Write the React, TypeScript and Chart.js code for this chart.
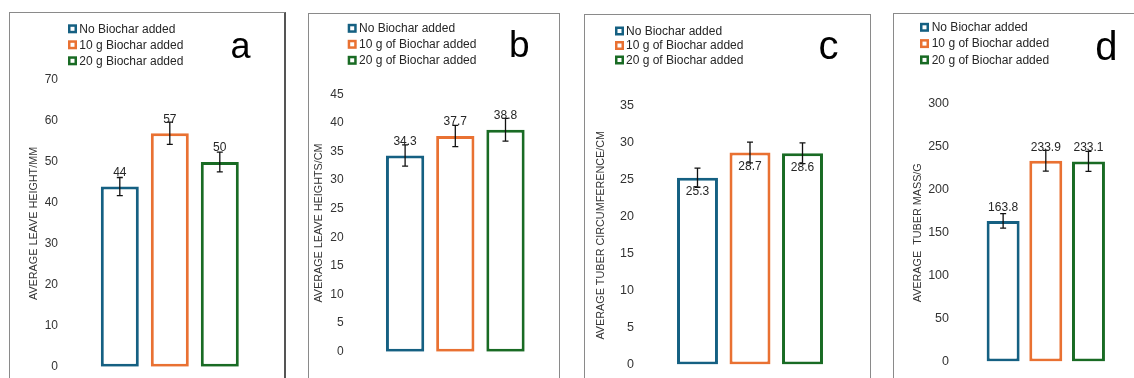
import React, { useEffect, useRef } from 'react';
import { Chart, registerables } from 'chart.js';

Chart.register(...registerables);

// ---------- DATA ----------
const SERIES_A = ['No Biochar added', '10 g Biochar added', '20 g Biochar added'];
const SERIES_BCD = ['No Biochar added', '10 g of Biochar added', '20 g of Biochar added'];

const LEAVE_HEIGHT_MM = [44, 57, 50];
const LEAVE_HEIGHT_MM_ERR = [2.2, 2.7, 2.4];
const LEAVE_HEIGHTS_CM = [34.3, 37.7, 38.8];
const LEAVE_HEIGHTS_CM_ERR = [1.85, 1.85, 2.0];
const TUBER_CIRC_CM = [25.3, 28.7, 28.6];
const TUBER_CIRC_CM_ERR = [1.3, 1.4, 1.4];
const TUBER_MASS_G = [163.8, 233.9, 233.1];
const TUBER_MASS_G_ERR = [8.5, 12, 11.7];

const TICKS_A = [0, 10, 20, 30, 40, 50, 60, 70];
const TICKS_B = [0, 5, 10, 15, 20, 25, 30, 35, 40, 45];
const TICKS_C = [0, 5, 10, 15, 20, 25, 30, 35];
const TICKS_D = [0, 50, 100, 150, 200, 250, 300];

const COLORS = ['#156082', '#E97132', '#196B24'];
const FONT = "'Liberation Sans', Arial, sans-serif";

type PanelCfg = {
  frame: { left: number; top: number; width: number; rightColor?: string; rightWidth?: number };
  canvas: { left: number; top: number; w: number; h: number };
  pad: { top: number; bottom: number; right: number };
  axisW: number;
  tickPad: number;
  tickSize: number;
  titlePad: number;
  title: string;
  ticks: number[];
  values: number[];
  errors: number[];
  series: string[];
  catPct: number;
  barPct: number;
  labelOffset: number;
  legend: { x: number; y: number; gap: number; textDx: number };
  letter: { text: string; x: number; y: number; size: number };
};

const PANELS: PanelCfg[] = [
  {
    frame: { left: 9, top: 12, width: 277, rightColor: '#555', rightWidth: 2 },
    canvas: { left: 10, top: 13, w: 274, h: 365 },
    pad: { top: 67, bottom: 10, right: 6.4 },
    axisW: 52, tickPad: 4, tickSize: 12, titlePad: 17.5,
    title: 'AVERAGE LEAVE HEIGHT/MM',
    ticks: TICKS_A, values: LEAVE_HEIGHT_MM, errors: LEAVE_HEIGHT_MM_ERR, series: SERIES_A,
    catPct: 0.6957, barPct: 0.76, labelOffset: 14,
    legend: { x: 58, y: 15.8, gap: 16, textDx: 11.3 },
    letter: { text: 'a', x: 220.5, y: 45.3, size: 36 },
  },
  {
    frame: { left: 308, top: 13, width: 252 },
    canvas: { left: 309, top: 14, w: 250, h: 364 },
    pad: { top: 80.3, bottom: 26.3, right: 1.4 },
    axisW: 44, tickPad: 9.3, tickSize: 12, titlePad: 3.5,
    title: 'AVERAGE LEAVE HEIGHTS/CM',
    ticks: TICKS_B, values: LEAVE_HEIGHTS_CM, errors: LEAVE_HEIGHTS_CM_ERR, series: SERIES_BCD,
    catPct: 0.736, barPct: 0.763, labelOffset: 14,
    legend: { x: 38.7, y: 14.3, gap: 16, textDx: 11.3 },
    letter: { text: 'b', x: 200, y: 43.3, size: 37 },
  },
  {
    frame: { left: 584, top: 14, width: 287 },
    canvas: { left: 585, top: 15, w: 285, h: 363 },
    pad: { top: 91, bottom: 9, right: 10 },
    axisW: 55, tickPad: 6, tickSize: 12.5, titlePad: 9.5,
    title: 'AVERAGE TUBER CIRCUMFERENCE/CM',
    ticks: TICKS_C, values: TUBER_CIRC_CM, errors: TUBER_CIRC_CM_ERR, series: SERIES_BCD,
    catPct: 0.716, barPct: 0.78, labelOffset: -14,
    legend: { x: 30, y: 16, gap: 14.5, textDx: 11 },
    letter: { text: 'c', x: 233.4, y: 44.3, size: 40 },
  },
  {
    frame: { left: 893, top: 13, width: 260 },
    canvas: { left: 894, top: 14, w: 240, h: 364 },
    pad: { top: 90, bottom: 10.3, right: 0.4 },
    axisW: 64, tickPad: 9, tickSize: 12.5, titlePad: 17.5,
    title: 'AVERAGE  TUBER MASS/G',
    ticks: TICKS_D, values: TUBER_MASS_G, errors: TUBER_MASS_G_ERR, series: SERIES_BCD,
    catPct: 0.729, barPct: 0.773, labelOffset: 13.5,
    legend: { x: 26, y: 13.3, gap: 16.3, textDx: 11.7 },
    letter: { text: 'd', x: 201.3, y: 45.5, size: 40 },
  },
];

function Panel({ cfg }: { cfg: PanelCfg }) {
  const ref = useRef<HTMLCanvasElement>(null);

  useEffect(() => {
    const overlay = {
      id: 'overlay',
      afterDatasetsDraw(chart: any) {
        const ctx = chart.ctx;
        const ys = chart.scales.y;
        chart.data.datasets.forEach((ds: any, i: number) => {
          const meta = chart.getDatasetMeta(i);
          meta.data.forEach((el: any, j: number) => {
            const v = ds.data[j];
            const e = cfg.errors[i];
            const yT = ys.getPixelForValue(v + e);
            const yB = ys.getPixelForValue(v - e);
            ctx.save();
            ctx.strokeStyle = '#111';
            ctx.lineWidth = 1.3;
            ctx.beginPath();
            ctx.moveTo(el.x, yT);
            ctx.lineTo(el.x, yB);
            ctx.moveTo(el.x - 3, yT);
            ctx.lineTo(el.x + 3, yT);
            ctx.moveTo(el.x - 3, yB);
            ctx.lineTo(el.x + 3, yB);
            ctx.stroke();
            ctx.fillStyle = '#262626';
            ctx.font = `12px ${FONT}`;
            ctx.textAlign = 'center';
            ctx.textBaseline = 'middle';
            ctx.fillText(String(v), el.x, el.y - cfg.labelOffset);
            ctx.restore();
          });
        });
      },
      afterDraw(chart: any) {
        const ctx = chart.ctx;
        ctx.save();
        const L = cfg.legend;
        cfg.series.forEach((name, i) => {
          const cy = L.y + i * L.gap;
          ctx.fillStyle = COLORS[i];
          ctx.fillRect(L.x, cy - 4.5, 9, 9);
          ctx.fillStyle = '#fff';
          ctx.fillRect(L.x + 2.5, cy - 2, 4, 4);
          ctx.fillStyle = '#262626';
          ctx.font = `12px ${FONT}`;
          ctx.textAlign = 'left';
          ctx.textBaseline = 'middle';
          ctx.fillText(name, L.x + L.textDx, cy + 0.5);
        });
        ctx.fillStyle = '#000';
        ctx.font = `${cfg.letter.size}px ${FONT}`;
        ctx.textAlign = 'left';
        ctx.textBaseline = 'alphabetic';
        ctx.fillText(cfg.letter.text, cfg.letter.x, cfg.letter.y);
        ctx.restore();
      },
    };

    const chart = new Chart(ref.current as HTMLCanvasElement, {
      type: 'bar',
      data: {
        labels: [''],
        datasets: cfg.series.map((name, i) => ({
          label: name,
          data: [cfg.values[i]],
          backgroundColor: '#ffffff',
          borderColor: COLORS[i],
          borderWidth: 3,
          borderSkipped: false,
          categoryPercentage: cfg.catPct,
          barPercentage: cfg.barPct,
        })),
      },
      options: {
        responsive: false,
        animation: false,
        events: [],
        layout: { padding: { left: 0, top: cfg.pad.top, bottom: cfg.pad.bottom, right: cfg.pad.right } },
        plugins: { legend: { display: false }, tooltip: { enabled: false } },
        scales: {
          x: { display: false },
          y: {
            min: cfg.ticks[0],
            max: cfg.ticks[cfg.ticks.length - 1],
            afterBuildTicks: (s: any) => {
              s.ticks = cfg.ticks.map((v) => ({ value: v }));
            },
            afterFit: (s: any) => {
              s.width = cfg.axisW;
            },
            grid: { display: false, drawTicks: false },
            border: { display: false },
            ticks: {
              padding: cfg.tickPad,
              color: '#333',
              font: { family: FONT, size: cfg.tickSize },
            },
            title: {
              display: true,
              text: cfg.title,
              color: '#333',
              font: { family: FONT, size: 10.8 },
              padding: { top: cfg.titlePad, bottom: 0 },
            },
          },
        },
      } as any,
      plugins: [overlay],
    });
    return () => chart.destroy();
  }, []);

  const f = cfg.frame;
  return (
    <>
      <div
        style={{
          position: 'absolute',
          left: f.left,
          top: f.top,
          width: f.width,
          height: 420,
          boxSizing: 'border-box',
          borderTop: '1px solid #8a8a8a',
          borderLeft: '1px solid #8a8a8a',
          borderRight: `${f.rightWidth ?? 1}px solid ${f.rightColor ?? '#8a8a8a'}`,
        }}
      />
      <canvas
        ref={ref}
        width={cfg.canvas.w}
        height={cfg.canvas.h}
        style={{
          position: 'absolute',
          left: cfg.canvas.left,
          top: cfg.canvas.top,
          width: cfg.canvas.w,
          height: cfg.canvas.h,
        }}
      />
    </>
  );
}

export default function App() {
  return (
    <div
      style={{
        position: 'fixed',
        left: 0,
        top: 0,
        width: 1134,
        height: 378,
        overflow: 'hidden',
        background: '#fff',
      }}
    >
      {PANELS.map((p, i) => (
        <Panel key={i} cfg={p} />
      ))}
    </div>
  );
}
